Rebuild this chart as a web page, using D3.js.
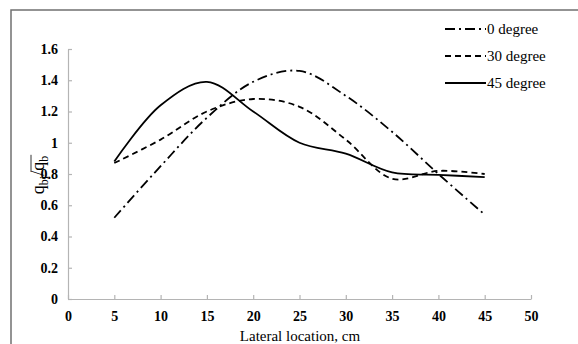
<!DOCTYPE html>
<html>
<head>
<meta charset="utf-8">
<script src="https://cdn.jsdelivr.net/npm/d3@7"></script>
<style>
  body { margin: 0; background: #fff; }
  svg text { font-family: "Liberation Serif", "DejaVu Serif", "Times New Roman", serif; }
</style>
</head>
<body>
<div class="chart"></div>
<script>
// lateral location, cm
const locations = [5, 10, 15, 20, 25, 30, 35, 40, 45];
const deg0  = [0.52, 0.85, 1.16, 1.39, 1.46, 1.30, 1.07, 0.80, 0.54];
const deg30 = [0.87, 1.02, 1.20, 1.28, 1.23, 1.02, 0.77, 0.82, 0.80];
const deg45 = [0.88, 1.24, 1.39, 1.20, 1.00, 0.93, 0.81, 0.795, 0.78];
const seriesNames = ["0 degree", "30 degree", "45 degree"];
const xTicks = [0, 5, 10, 15, 20, 25, 30, 35, 40, 45, 50];
const yTicks = [0, 0.2, 0.4, 0.6, 0.8, 1, 1.2, 1.4, 1.6];

const W = 578, H = 344;
const margin = {top: 49, right: 47, bottom: 45, left: 68},
    width = W - margin.left - margin.right,
    height = H - margin.top - margin.bottom;

const svg = d3.select(".chart")
  .append("svg")
    .attr("width", W)
    .attr("height", H);

// outer frame
svg.append("rect")
  .attr("x", 11).attr("y", 10)
  .attr("width", W + 10).attr("height", H + 10)
  .attr("fill", "none")
  .attr("stroke", "#707070")
  .attr("stroke-width", 1.5);

const g = svg.append("g")
  .attr("transform", `translate(${margin.left},${margin.top})`);

const x = d3.scaleLinear().domain([0, 50]).range([0, width]);
const y = d3.scaleLinear().domain([0, 1.6]).range([height, 0]);

// X axis
const xAxis = g.append("g")
  .attr("transform", `translate(0,${height})`)
  .call(d3.axisBottom(x).tickValues(xTicks).tickSizeInner(-4).tickSizeOuter(0).tickPadding(12));
// Y axis
const yAxis = g.append("g")
  .call(d3.axisLeft(y).tickValues(yTicks).tickSizeInner(-4).tickSizeOuter(0).tickPadding(10)
    .tickFormat(d => d3.format("~g")(d)));

[xAxis, yAxis].forEach(a => {
  a.attr("font-family", null);
  a.selectAll("path, line").attr("stroke", "#b4b4b4").attr("stroke-width", 1.2);
  a.selectAll("text")
    .attr("fill", "#000")
    .attr("font-size", 14)
    .attr("font-weight", "bold");
});

// lines
const styles = ["10,4,2,4", "6,4", null];
const allData = [deg0, deg30, deg45];
const line = d3.line()
  .x((d, i) => x(locations[i]))
  .y(d => y(d))
  .curve(d3.curveCatmullRom.alpha(0.5));

allData.forEach((vals, k) => {
  g.append("path")
    .datum(vals)
    .attr("fill", "none")
    .attr("stroke", "#000")
    .attr("stroke-width", 1.8)
    .attr("stroke-dasharray", styles[k])
    .attr("d", line);
});

// legend
const legend = svg.append("g").attr("transform", "translate(445,0)");
seriesNames.forEach((name, k) => {
  const yy = 29 + k * 27;
  legend.append("line")
    .attr("x1", 0).attr("x2", 41)
    .attr("y1", yy).attr("y2", yy)
    .attr("stroke", "#000")
    .attr("stroke-width", 1.8)
    .attr("stroke-dasharray", styles[k]);
  legend.append("text")
    .attr("x", 42).attr("y", yy + 5)
    .attr("font-size", 15)
    .text(name);
});

// axis titles
svg.append("text")
  .attr("x", 300).attr("y", 341)
  .attr("text-anchor", "middle")
  .attr("font-size", 15)
  .text("Lateral location, cm");

// y title: q_bi / q̄_b, rotated
const yt = svg.append("g").attr("transform", "translate(44,175) rotate(-90)");
const parts = [
  {t: "q", size: 18, dy: 0},
  {t: "bi", size: 12, dy: 4},
  {t: "/", size: 18, dy: 0},
  {t: "q", size: 18, dy: 0, bar: true},
  {t: "b", size: 12, dy: 4}
];
let cx = 0;
const pieces = parts.map(p => {
  const el = yt.append("text")
    .attr("x", cx).attr("y", p.dy)
    .attr("font-size", p.size)
    .text(p.t);
  const w = el.node().getComputedTextLength();
  const res = {el, x0: cx, w, bar: p.bar};
  cx += w;
  return res;
});
pieces.forEach(p => {
  p.el.attr("x", p.x0 - cx / 2);
  if (p.bar) {
    yt.append("line")
      .attr("x1", p.x0 - cx / 2 - 1).attr("x2", p.x0 - cx / 2 + p.w + 7)
      .attr("y1", -13).attr("y2", -13)
      .attr("stroke", "#000").attr("stroke-width", 0.8);
  }
});
</script>
</body>
</html>
